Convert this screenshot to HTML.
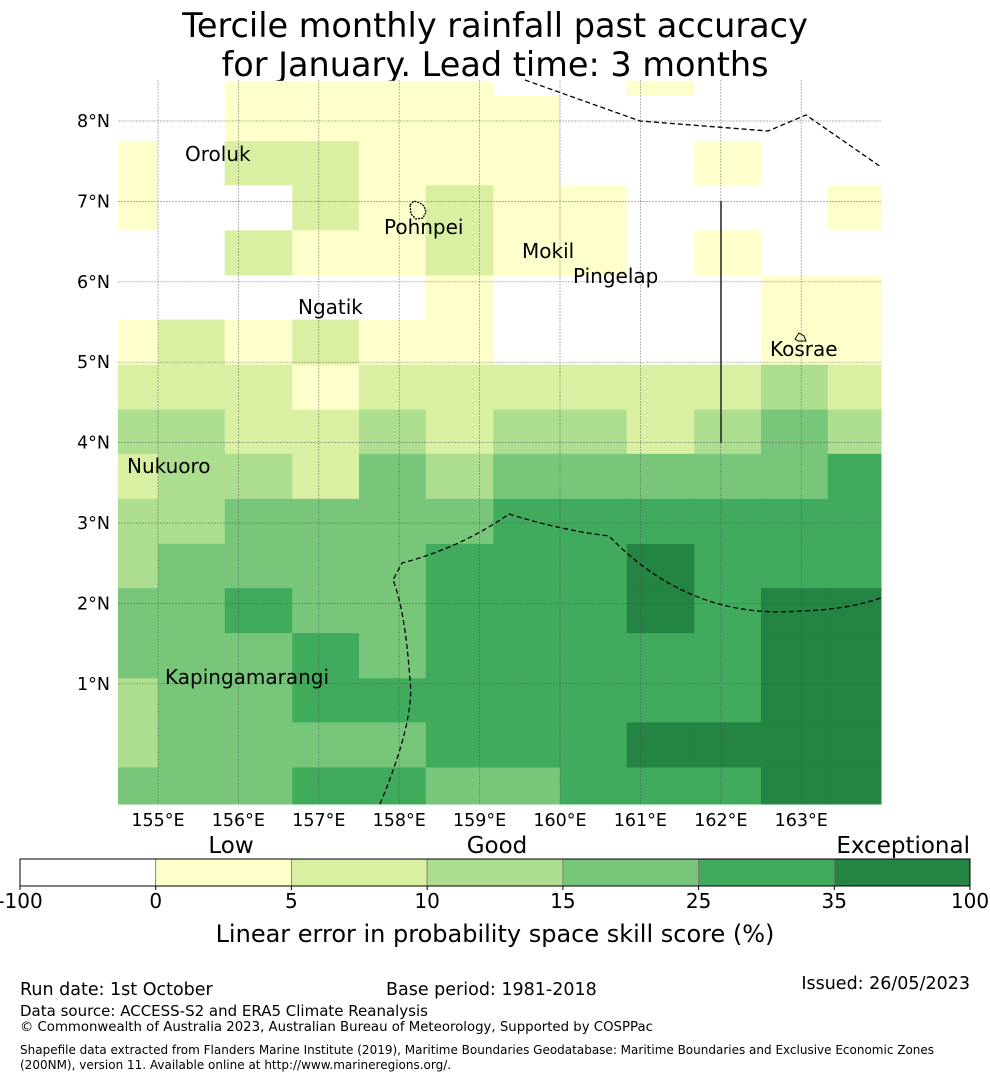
<!DOCTYPE html>
<html><head><meta charset="utf-8"><style>
html,body{margin:0;padding:0;background:#fff;}
svg{display:block;font-family:"DejaVu Sans","Liberation Sans",sans-serif;}
</style></head><body>
<svg id="chart" width="990" height="1080" viewBox="0 0 990 1080">
<text x="495" y="37" font-size="33.5" text-anchor="middle">Tercile monthly rainfall past accuracy</text>
<text x="495" y="76" font-size="33.5" text-anchor="middle">for January. Lead time: 3 months</text>
<g id="cells"></g>
<g id="grid"></g>
<g id="overlay">
<path d="M525,80 L640,121 L768,131 L806,115 L881,167" fill="none" stroke="#000" stroke-width="1.3" stroke-dasharray="5,3"/>
<line x1="721" y1="201" x2="721" y2="443" stroke="#222" stroke-width="1.5"/>
<path d="M380,804 Q415,720 410,680 Q405,610 393,580 L402,563 Q460,548 509,514 Q560,530 609,536 Q690,620 800,611 Q845,610 881,598" fill="none" stroke="#000" stroke-width="1.3" stroke-dasharray="5,3"/>
<path d="M410,205 L414,201 L420,203 L424,206 L426,212 L423,218 L416,219 L411,214 Z" fill="none" stroke="#000" stroke-width="1.3" stroke-dasharray="2,1"/>
<path d="M795,339 L799,333 L804,336 L806,341 L798,341 Z" fill="none" stroke="#000" stroke-width="1"/>
</g>
<g font-size="20">
<text x="185" y="161">Oroluk</text>
<text x="384" y="234">Pohnpei</text>
<text x="522" y="258">Mokil</text>
<text x="573" y="283">Pingelap</text>
<text x="298" y="314">Ngatik</text>
<text x="770" y="356">Kosrae</text>
<text x="127" y="473">Nukuoro</text>
<text x="165" y="684">Kapingamarangi</text>
</g>
<g id="axes" font-size="17.5"></g>
<g id="cbar"></g>
<text x="231" y="853" font-size="23" text-anchor="middle">Low</text>
<text x="497" y="853" font-size="23" text-anchor="middle">Good</text>
<text x="970" y="853" font-size="23" text-anchor="end">Exceptional</text>
<text x="495" y="942" font-size="24" text-anchor="middle">Linear error in probability space skill score (%)</text>
<text x="20" y="995" font-size="17.5">Run date: 1st October</text>
<text x="386" y="995" font-size="17.5">Base period: 1981-2018</text>
<text x="970" y="989" font-size="17.5" text-anchor="end">Issued: 26/05/2023</text>
<text x="20" y="1016" font-size="15">Data source: ACCESS-S2 and ERA5 Climate Reanalysis</text>
<text x="20" y="1031" font-size="13.3">© Commonwealth of Australia 2023, Australian Bureau of Meteorology, Supported by COSPPac</text>
<text x="20" y="1054" font-size="12">Shapefile data extracted from Flanders Marine Institute (2019), Maritime Boundaries Geodatabase: Maritime Boundaries and Exclusive Economic Zones</text>
<text x="20" y="1069" font-size="12">(200NM), version 11. Available online at http://www.marineregions.org/.</text>
</svg>
<script>
// Skill score values per cell, rows north->south, columns west->east
const rowTopLats = [8.5, 8.31, 7.75, 7.2, 6.64, 6.08, 5.53, 4.97, 4.41, 3.86, 3.3, 2.74, 2.19, 1.63, 1.07, 0.52, -0.04];
const colLeftLons = [154.5, 155.0, 155.83, 156.67, 157.5, 158.33, 159.17, 160.0, 160.83, 161.67, 162.5, 163.33];
const skillRows = [
 [-10,-10,2,2,2,2,-10,-10,2,-10,-10,-10],
 [-10,-10,2,2,2,2,2,-10,-10,-10,-10,-10],
 [2,-10,7,7,2,2,2,-10,-10,2,-10,-10],
 [2,-10,-10,7,2,7,2,2,-10,-10,-10,2],
 [-10,-10,7,2,2,7,2,2,-10,2,-10,-10],
 [-10,-10,-10,-10,-10,2,-10,-10,-10,-10,2,2],
 [2,7,2,7,2,2,-10,-10,-10,-10,2,2],
 [7,7,7,2,7,7,7,7,7,7,12,7],
 [12,12,7,7,12,7,12,12,7,12,20,12],
 [7,12,12,7,20,12,20,20,20,20,20,30],
 [12,12,20,20,20,20,30,30,30,30,30,30],
 [12,20,20,20,20,30,30,30,50,30,30,30],
 [20,20,30,20,20,30,30,30,50,30,50,50],
 [20,20,20,30,20,30,30,30,30,30,50,50],
 [12,20,20,30,30,30,30,30,30,30,50,50],
 [12,20,20,20,20,30,30,30,50,50,50,50],
 [20,20,20,30,30,20,20,30,30,30,50,50]
];
const binEdges = [-100, 0, 5, 10, 15, 25, 35, 100];
const binColors = ['#ffffff','#ffffcc','#d9f0a3','#addd8e','#78c679','#41ab5d','#238443'];
const latTicks = [8,7,6,5,4,3,2,1];
const lonTicks = [155,156,157,158,159,160,161,162,163];

const MAP = {x0:118, x1:881, y0:80, y1:804};
function xLon(lon){ return 158 + (lon-155)*80.4; }
function yLat(lat){ return 121 + (8-lat)*80.4; }
function colorFor(v){ for(let i=0;i<binColors.length;i++){ if(v<binEdges[i+1]) return binColors[i]; } return binColors[binColors.length-1]; }
const NS='http://www.w3.org/2000/svg';
function mk(tag, attrs){ const e=document.createElementNS(NS,tag); for(const k in attrs) e.setAttribute(k, attrs[k]); return e; }

const cells=document.getElementById('cells');
for(let r=0;r<skillRows.length;r++){
  const yt=Math.max(MAP.y0, yLat(rowTopLats[r]));
  const yb = r+1<rowTopLats.length ? yLat(rowTopLats[r+1]) : MAP.y1;
  for(let c=0;c<skillRows[r].length;c++){
    const xl=Math.max(MAP.x0, xLon(colLeftLons[c]));
    const xr = c+1<colLeftLons.length ? xLon(colLeftLons[c+1]) : MAP.x1;
    const rect=mk('rect',{x:xl,y:yt,width:xr-xl+0.5,height:Math.min(yb,MAP.y1)-yt+0.5,fill:colorFor(skillRows[r][c])});
    
    
    cells.appendChild(rect);
  }
}
const grid=document.getElementById('grid');
const axes=document.getElementById('axes');
latTicks.forEach(t=>{
  const y=yLat(t);
  const l=mk('line',{x1:MAP.x0,x2:MAP.x1,y1:y,y2:y,stroke:'#555','stroke-opacity':0.6,'stroke-width':0.7,'stroke-dasharray':'2,1'});
  
  
  grid.appendChild(l);
  const tx=mk('text',{x:110,y:y+6,'text-anchor':'end'}); tx.textContent=t+'°N';
  
  
  axes.appendChild(tx);
});
lonTicks.forEach(t=>{
  const x=xLon(t);
  const l=mk('line',{x1:x,x2:x,y1:MAP.y0,y2:MAP.y1,stroke:'#555','stroke-opacity':0.6,'stroke-width':0.7,'stroke-dasharray':'2,1'});
  
  
  grid.appendChild(l);
  const tx=mk('text',{x:x,y:826,'text-anchor':'middle'}); tx.textContent=t+'°E';
  
  
  axes.appendChild(tx);
});
const cbar=document.getElementById('cbar');
const cbX0=20, cbX1=970, cbW=(cbX1-cbX0)/binColors.length;
binColors.forEach((col,i)=>{
  const r=mk('rect',{x:cbX0+i*cbW,y:859,width:cbW,height:27,fill:col,stroke:'#777','stroke-width':0.8});
  
  
  cbar.appendChild(r);
});
cbar.appendChild(mk('rect',{x:cbX0,y:859,width:cbX1-cbX0,height:27,fill:'none',stroke:'#000','stroke-width':1}));
binEdges.forEach((v,i)=>{
  const x=cbX0+i*cbW;
  const tk=mk('line',{x1:x,x2:x,y1:886,y2:890,stroke:'#000'});
  
  
  cbar.appendChild(tk);
  const tx=mk('text',{x:x,y:908,'text-anchor':'middle','font-size':20}); tx.textContent=v;
  
  
  cbar.appendChild(tx);
});
</script>
</body></html>
